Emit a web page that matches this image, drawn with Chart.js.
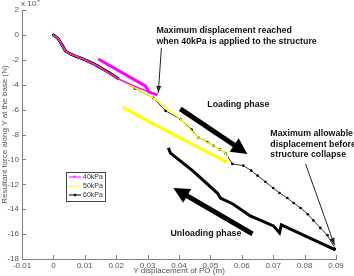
<!DOCTYPE html>
<html>
<head>
<meta charset="utf-8">
<script src="https://cdn.jsdelivr.net/npm/chart.js@4/dist/chart.umd.min.js"></script>
<style>
  html, body { margin: 0; padding: 0; background: #fff; }
  #wrap { position: relative; width: 354px; height: 276px; }
</style>
</head>
<body>
<div id="wrap"><canvas id="chart" width="354" height="276"></canvas></div>
<script>
// ─── Data (force in units of 10^4 N) ───
const load40X = [0, 0.0016, 0.0029, 0.0038, 0.0054, 0.0086, 0.0108, 0.0140, 0.0207, 0.0275, 0.0331];
const load40Y = [0, -0.32, -0.88, -1.29, -1.53, -1.85, -2.09, -2.49, -3.53, -4.30, -4.82];
const unload40X = [0.0331, 0.0303, 0.0299, 0.0293, 0.0143];
const unload40Y = [-4.82, -4.58, -4.34, -4.10, -1.93];

const load50X = [0, 0.0016, 0.0029, 0.0038, 0.0054, 0.0086, 0.0108, 0.0140, 0.0207, 0.0318, 0.0404, 0.0462, 0.0510, 0.0555];
const load50Y = [0, -0.32, -0.88, -1.29, -1.53, -1.85, -2.09, -2.49, -3.53, -5.06, -6.75, -8.27, -8.90, -9.60];
const unload50X = [0.0552, 0.0404, 0.0300, 0.0220];
const unload50Y = [-10.20, -8.27, -6.90, -5.78];

const load60X = [0, 0.0016, 0.0029, 0.0038, 0.0054, 0.0070, 0.0086, 0.0108, 0.0125, 0.0140, 0.0175, 0.0207,
  0.0260, 0.0318, 0.0357, 0.0404, 0.0440, 0.0462, 0.0490, 0.0510, 0.0530, 0.0548, 0.0570, 0.0605,
  0.0630, 0.0650, 0.0675, 0.0700, 0.0720, 0.0745, 0.0765, 0.0787, 0.0810, 0.0828, 0.0850, 0.0873, 0.0898];
const load60Y = [0, -0.32, -0.88, -1.29, -1.53, -1.70, -1.85, -2.09, -2.28, -2.49, -3.00, -3.53,
  -4.30, -5.06, -6.10, -6.75, -7.60, -8.27, -8.60, -8.90, -9.20, -9.48, -10.36, -10.50,
  -10.90, -11.30, -11.80, -12.30, -12.70, -13.10, -13.50, -13.90, -14.40, -14.90, -15.50, -16.10, -17.20];
const unload60X = [0.0898, 0.0726, 0.0720, 0.0701, 0.0627, 0.0573, 0.0532, 0.0522, 0.0452, 0.0443, 0.0373, 0.0366];
const unload60Y = [-17.27, -15.26, -15.90, -15.34, -14.54, -13.60, -13.10, -12.70, -11.10, -10.90, -9.50, -9.08];

const xTicks = [-0.01, 0, 0.01, 0.02, 0.03, 0.04, 0.05, 0.06, 0.07, 0.08, 0.09];
const yTicks = [2, 0, -2, -4, -6, -8, -10, -12, -14, -16, -18];
const seriesNames = ['40kPa', '50kPa', '60kPa'];
const seriesColors = ['#ff00ff', '#ffff00', '#000000'];

// ─── Annotations (data coordinates) ───
const notes = [
  { x: 0.0328, y: 0.32, text: 'Maximum displacement reached' },
  { x: 0.0328, y: -0.56, text: 'when 40kPa is applied to the structure' },
  { x: 0.0490, y: -5.62, text: 'Loading phase' },
  { x: 0.0691, y: -7.95, text: 'Maximum allowable' },
  { x: 0.0691, y: -8.84, text: 'displacement before' },
  { x: 0.0691, y: -9.64, text: 'structure collapse' },
  { x: 0.0373, y: -15.98, text: 'Unloading phase' }
];
const thinArrows = [
  { x0: 0.0344, y0: -1.04, x1: 0.0334, y1: -4.66 },
  { x0: 0.0803, y0: -10.36, x1: 0.0895, y1: -16.87 }
];
const bigArrows = [
  { x0: 0.0404, y0: -5.94, x1: 0.0618, y1: -9.56 },
  { x0: 0.0634, y0: -15.98, x1: 0.0382, y1: -12.29 }
];

const pts = (xs, ys) => xs.map((x, i) => ({ x, y: ys[i] }));
const FONT = '"Liberation Sans", Arial, sans-serif';

// ─── Path builder: thin loading then thick unloading ───
function pathSet(name, color, lx, ly, ux, uy, markers) {
  const loadN = lx.length;
  return {
    label: name,
    data: pts(lx, ly).concat(pts(ux, uy)),
    borderColor: color,
    backgroundColor: color,
    pointRadius: ctx => (markers && ctx.dataIndex < loadN ? 1.3 : 0),
    pointBorderWidth: 0,
    showLine: true,
    tension: 0,
    segment: {
      borderWidth: c => {
        if (c.p0DataIndex >= loadN) return 3;
        if (c.p0DataIndex === loadN - 1) return 1;
        if (markers && c.p1.parsed.x <= 0.0207) return 3;
        return markers ? 0.8 : 1.3;
      }
    }
  };
}

// ─── Decorations ───
function arrowHead(ctx, x0, y0, x1, y1, len, half) {
  const a = Math.atan2(y1 - y0, x1 - x0);
  ctx.beginPath();
  ctx.moveTo(x1, y1);
  ctx.lineTo(x1 - len * Math.cos(a) + half * Math.sin(a), y1 - len * Math.sin(a) - half * Math.cos(a));
  ctx.lineTo(x1 - len * Math.cos(a) - half * Math.sin(a), y1 - len * Math.sin(a) + half * Math.cos(a));
  ctx.closePath();
  ctx.fill();
}

const decor = {
  id: 'decor',
  afterDraw(chart) {
    const { ctx, scales: { x, y }, chartArea: area } = chart;
    ctx.save();

    // inward ticks, MATLAB style
    ctx.strokeStyle = '#808080';
    ctx.lineWidth = 1;
    ctx.beginPath();
    xTicks.forEach(v => {
      const px = Math.round(x.getPixelForValue(v)) + 0.5;
      ctx.moveTo(px, area.bottom); ctx.lineTo(px, area.bottom - 4);
    });
    yTicks.forEach(v => {
      const py = Math.round(y.getPixelForValue(v)) + 0.5;
      ctx.moveTo(area.left, py); ctx.lineTo(area.left + 4, py);
    });
    ctx.stroke();

    // exponent
    ctx.fillStyle = '#555';
    ctx.font = '8px ' + FONT;
    ctx.textBaseline = 'middle';
    ctx.textAlign = 'left';
    ctx.fillText('x 10', area.left - 1, 4);
    ctx.font = '5px ' + FONT;
    ctx.fillText('4', area.left + 15, 1);

    // annotation text
    ctx.fillStyle = '#111';
    ctx.font = 'bold 8.8px ' + FONT;
    notes.forEach(n => ctx.fillText(n.text, x.getPixelForValue(n.x), y.getPixelForValue(n.y)));

    // thin arrows
    ctx.strokeStyle = '#222';
    ctx.fillStyle = '#222';
    ctx.lineWidth = 1;
    thinArrows.forEach(a => {
      const x0 = x.getPixelForValue(a.x0), y0 = y.getPixelForValue(a.y0);
      const x1 = x.getPixelForValue(a.x1), y1 = y.getPixelForValue(a.y1);
      ctx.beginPath(); ctx.moveTo(x0, y0); ctx.lineTo(x1, y1); ctx.stroke();
      arrowHead(ctx, x0, y0, x1, y1, 7, 2.5);
    });

    // big arrows
    ctx.strokeStyle = '#000';
    ctx.fillStyle = '#000';
    ctx.lineWidth = 5;
    bigArrows.forEach(a => {
      const x0 = x.getPixelForValue(a.x0), y0 = y.getPixelForValue(a.y0);
      const x1 = x.getPixelForValue(a.x1), y1 = y.getPixelForValue(a.y1);
      const ang = Math.atan2(y1 - y0, x1 - x0);
      ctx.beginPath(); ctx.moveTo(x0, y0);
      ctx.lineTo(x1 - 12 * Math.cos(ang), y1 - 12 * Math.sin(ang)); ctx.stroke();
      arrowHead(ctx, x0, y0, x1, y1, 16, 8);
    });

    // legend box
    const lx = 66, ly = 172, lw = 39, lh = 29;
    ctx.fillStyle = '#fff';
    ctx.fillRect(lx, ly, lw, lh);
    ctx.strokeStyle = '#444';
    ctx.lineWidth = 1;
    ctx.strokeRect(lx + 0.5, ly + 0.5, lw, lh);
    ctx.font = '7px ' + FONT;
    seriesNames.forEach((name, i) => {
      const ry = ly + 5 + i * 9;
      ctx.strokeStyle = seriesColors[i];
      ctx.lineWidth = 1;
      ctx.beginPath(); ctx.moveTo(lx + 3, ry); ctx.lineTo(lx + 15, ry); ctx.stroke();
      ctx.fillStyle = seriesColors[i];
      if (i === 0) ctx.fillText('*', lx + 7, ry + 1);
      if (i === 2) { ctx.beginPath(); ctx.arc(lx + 9, ry, 1.3, 0, Math.PI * 2); ctx.fill(); }
      ctx.fillStyle = '#333';
      ctx.fillText(name, lx + 17, ry);
    });
    ctx.restore();
  }
};

new Chart(document.getElementById('chart'), {
  type: 'scatter',
  data: {
    datasets: [
      pathSet(seriesNames[0], seriesColors[0], load40X, load40Y, unload40X, unload40Y, false),
      pathSet(seriesNames[1], seriesColors[1], load50X, load50Y, unload50X, unload50Y, false),
      pathSet(seriesNames[2], seriesColors[2], load60X, load60Y, unload60X, unload60Y, true)
    ]
  },
  options: {
    responsive: false,
    animation: false,
    layout: { padding: { top: 10, right: 18, left: 0, bottom: 0 } },
    plugins: { legend: { display: false }, tooltip: { enabled: false } },
    scales: {
      x: {
        type: 'linear', min: -0.01, max: 0.09,
        afterBuildTicks: s => { s.ticks = xTicks.map(v => ({ value: v })); },
        afterFit: s => { s.height = 17; },
        border: { color: '#808080' },
        grid: { display: false, drawTicks: false },
        ticks: {
          color: '#555', font: { size: 8, family: FONT }, padding: 2, maxRotation: 0, autoSkip: false,
          callback: v => (Math.round(v * 100) / 100).toString()
        },
        title: { display: true, text: 'Y displacement of PO (m)', color: '#555', font: { size: 8, family: FONT }, padding: 0 }
      },
      y: {
        type: 'linear', min: -18, max: 2,
        afterBuildTicks: s => { s.ticks = yTicks.map(v => ({ value: v })); },
        afterFit: s => { s.width = 22; },
        border: { color: '#808080' },
        grid: { display: false, drawTicks: false },
        ticks: { color: '#555', font: { size: 8, family: FONT }, padding: 3, autoSkip: false },
        title: { display: true, text: 'Resultant force along Y at the base (N)', color: '#555', font: { size: 8, family: FONT }, padding: 0 }
      }
    }
  },
  plugins: [decor]
});
</script>
</body>
</html>
